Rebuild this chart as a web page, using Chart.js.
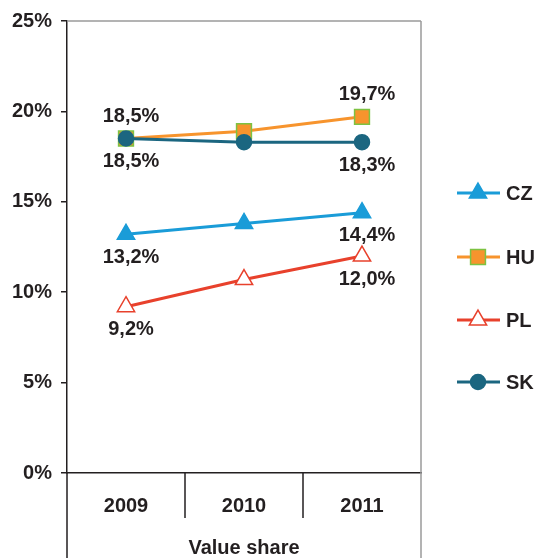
<!DOCTYPE html>
<html>
<head>
<meta charset="utf-8">
<script src="https://cdn.jsdelivr.net/npm/chart.js@4/dist/chart.umd.min.js"></script>
<style>
  html, body { margin: 0; padding: 0; background: #fff; }
  #wrap { width: 539px; height: 558px; }
</style>
</head>
<body>
<div id="wrap"><canvas id="share_chart" width="539" height="558"></canvas></div>
<script>
const years = ["2009", "2010", "2011"];
const series_names = ["CZ", "HU", "PL", "SK"];
const cz_values = [13.2, 13.8, 14.4];
const hu_values = [18.5, 18.9, 19.7];
const pl_values = [9.2, 10.7, 12.0];
const sk_values = [18.5, 18.3, 18.3];
const y_ticks = [0, 5, 10, 15, 20, 25];
const label_side = ["below", "above", "below", "below"];
const axis_title = "Value share";

const text_colour = "#231f20";
const font_family = "'Liberation Sans', Arial, sans-serif";

const series_styles = [
  {colour: "#1a9cd8", pointStyle: "triangle", radius: 10, fill: "#1a9cd8", border: "#1a9cd8", order: 3},
  {colour: "#f7942d", pointStyle: "rect", radius: 10.5, fill: "#f7942d", border: "#7dc242", order: 2},
  {colour: "#e8412c", pointStyle: "triangle", radius: 10, fill: "#ffffff", border: "#e8412c", order: 1},
  {colour: "#1b6680", pointStyle: "circle", radius: 7.5, fill: "#1b6680", border: "#1b6680", order: 0}
];

const all_values = [cz_values, hu_values, pl_values, sk_values];

let datasets = [];
for (let i = 0; i < all_values.length; i++) {
  const s = series_styles[i];
  datasets.push({
    label: series_names[i],
    data: all_values[i],
    borderColor: s.colour,
    backgroundColor: s.colour,
    borderWidth: 3,
    pointStyle: s.pointStyle,
    pointRadius: s.radius,
    pointHoverRadius: s.radius,
    pointBackgroundColor: s.fill,
    pointBorderColor: s.border,
    pointBorderWidth: 1.5,
    order: s.order,
    tension: 0
  });
}

// value labels on first and last point
const valueLabels = {
  id: "valueLabels",
  afterDatasetsDraw(chart) {
    const ctx = chart.ctx;
    ctx.save();
    ctx.font = "bold 20px " + font_family;
    ctx.fillStyle = text_colour;
    ctx.textAlign = "center";
    ctx.textBaseline = "middle";
    chart.data.datasets.forEach((ds, i) => {
      const meta = chart.getDatasetMeta(i);
      [0, ds.data.length - 1].forEach(j => {
        const pt = meta.data[j];
        const txt = ds.data[j].toFixed(1).replace(".", ",") + "%";
        const dy = label_side[i] === "above" ? -22 : 23;
        ctx.fillText(txt, pt.x + 5, pt.y + dy);
      });
    });
    ctx.restore();
  }
};

// frame lines, category dividers and legend
const frameAndLegend = {
  id: "frameAndLegend",
  afterDraw(chart) {
    const ctx = chart.ctx;
    const area = chart.chartArea;
    const xs = chart.scales.x;
    ctx.save();
    // top and right frame
    ctx.strokeStyle = "#9a9a9a";
    ctx.lineWidth = 1.5;
    ctx.beginPath();
    ctx.moveTo(area.left, area.top);
    ctx.lineTo(area.right, area.top);
    ctx.moveTo(area.right, area.top);
    ctx.lineTo(area.right, chart.height);
    ctx.stroke();
    // left axis extension and dividers
    ctx.strokeStyle = "#231f20";
    ctx.beginPath();
    ctx.moveTo(area.left, area.bottom);
    ctx.lineTo(area.left, chart.height);
    for (let i = 0; i < years.length - 1; i++) {
      const bx = (xs.getPixelForValue(i) + xs.getPixelForValue(i + 1)) / 2;
      ctx.moveTo(bx, area.bottom);
      ctx.lineTo(bx, area.bottom + 45);
    }
    ctx.stroke();

    // legend
    const legend_y = [193, 257, 320, 382];
    ctx.font = "bold 20px " + font_family;
    ctx.textAlign = "left";
    ctx.textBaseline = "middle";
    chart.data.datasets.forEach((ds, i) => {
      const y = legend_y[i];
      ctx.strokeStyle = ds.borderColor;
      ctx.lineWidth = 3;
      ctx.beginPath();
      ctx.moveTo(457, y);
      ctx.lineTo(500, y);
      ctx.stroke();
      ctx.fillStyle = ds.pointBackgroundColor;
      ctx.strokeStyle = ds.pointBorderColor;
      ctx.lineWidth = 1.5;
      Chart.helpers.drawPoint(ctx, {pointStyle: ds.pointStyle, radius: ds.pointRadius, rotation: 0, borderWidth: 1.5}, 478, y);
      ctx.fillStyle = text_colour;
      ctx.fillText(ds.label, 506, y + 1);
    });
    ctx.restore();
  }
};

const config_line = {
  type: "line",
  data: {labels: years, datasets: datasets},
  options: {
    responsive: false,
    animation: false,
    layout: {padding: {top: 18, right: 118, bottom: 0, left: 0}},
    scales: {
      y: {
        min: 0,
        max: 25,
        afterBuildTicks: (s) => { s.ticks = y_ticks.map(v => ({value: v})); },
        afterFit: (s) => { s.width = 67; },
        ticks: {
          padding: 9,
          color: text_colour,
          font: {family: font_family, size: 20, weight: "bold"},
          callback: (v) => v + "%"
        },
        grid: {drawOnChartArea: false, drawTicks: true, tickLength: 6, color: "#231f20", lineWidth: 1.5},
        border: {display: true, color: "#231f20", width: 1.5}
      },
      x: {
        offset: true,
        afterFit: (s) => { s.height = 85; },
        ticks: {
          padding: 13,
          maxRotation: 0,
          color: text_colour,
          font: {family: font_family, size: 20, weight: "bold"}
        },
        grid: {display: false},
        border: {display: true, color: "#231f20", width: 1.5},
        title: {
          display: true,
          text: axis_title,
          color: text_colour,
          font: {family: font_family, size: 20, weight: "bold"},
          padding: {top: 20, bottom: -2}
        }
      }
    },
    plugins: {
      legend: {display: false},
      tooltip: {enabled: false}
    }
  },
  plugins: [valueLabels, frameAndLegend]
};

const ctx_line = document.getElementById("share_chart").getContext("2d");
new Chart(ctx_line, config_line);
</script>
</body>
</html>
